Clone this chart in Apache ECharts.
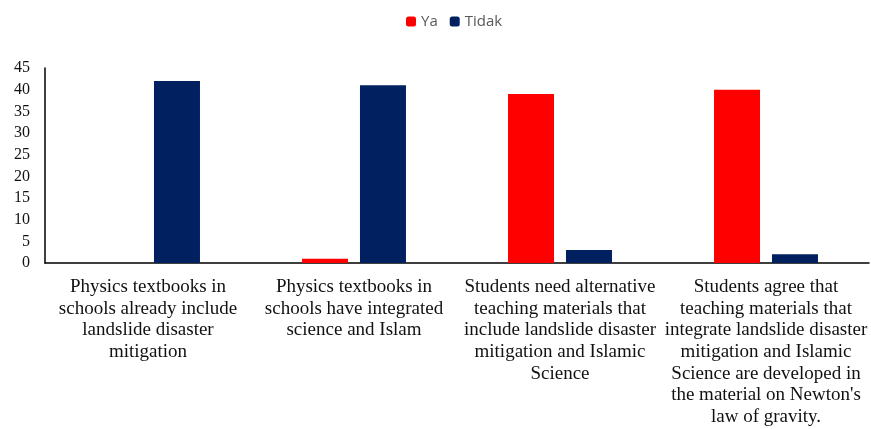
<!DOCTYPE html>
<html>
<head>
<meta charset="utf-8">
<script src="https://cdn.jsdelivr.net/npm/echarts@6/dist/echarts.min.js"></script>
<style>
  html, body { margin: 0; padding: 0; background: #fff; }
  #chart { width: 871px; height: 429px; }
</style>
</head>
<body>
<div id="chart"></div>
<script>
const categories = [
  'Physics textbooks in\nschools already include\nlandslide disaster\nmitigation',
  'Physics textbooks in\nschools have integrated\nscience and Islam',
  'Students need alternative\nteaching materials that\ninclude landslide disaster\nmitigation and Islamic\nScience',
  'Students agree that\nteaching materials that\nintegrate landslide disaster\nmitigation and Islamic\nScience are developed in\nthe material on Newton\'s\nlaw of gravity.'
];
const yaValues = [0, 1, 39, 40];
const tidakValues = [42, 41, 3, 2];

const chart = echarts.init(document.getElementById('chart'));
const option = {
  animation: false,
  legend: {
    top: 9,
    left: 401,
    itemWidth: 10,
    itemHeight: 10,
    itemGap: 12,
    textStyle: { fontFamily: 'Open Sans', fontSize: 15, color: '#595959' },
    data: ['Ya', 'Tidak']
  },
  grid: { left: 45, right: 2, top: 68, bottom: 166 },
  xAxis: {
    type: 'category',
    data: categories,
    axisLine: { lineStyle: { color: '#000', width: 1.5 } },
    axisTick: { show: false },
    axisLabel: {
      interval: 0,
      margin: 13,
      fontFamily: 'Liberation Serif',
      fontSize: 19,
      lineHeight: 21.7,
      color: '#111'
    }
  },
  yAxis: {
    type: 'value',
    min: 0,
    max: 45,
    interval: 5,
    splitLine: { show: false },
    axisLine: { show: true, lineStyle: { color: '#000', width: 1.5 } },
    axisTick: { show: false },
    axisLabel: {
      margin: 15,
      fontFamily: 'Liberation Serif',
      fontSize: 16,
      color: '#111'
    }
  },
  series: [
    {
      name: 'Ya',
      type: 'bar',
      data: yaValues,
      barWidth: 46,
      barGap: '26%',
      itemStyle: { color: '#FF0000' }
    },
    {
      name: 'Tidak',
      type: 'bar',
      data: tidakValues,
      barWidth: 46,
      itemStyle: { color: '#002060' }
    }
  ]
};
chart.setOption(option);
</script>
</body>
</html>
